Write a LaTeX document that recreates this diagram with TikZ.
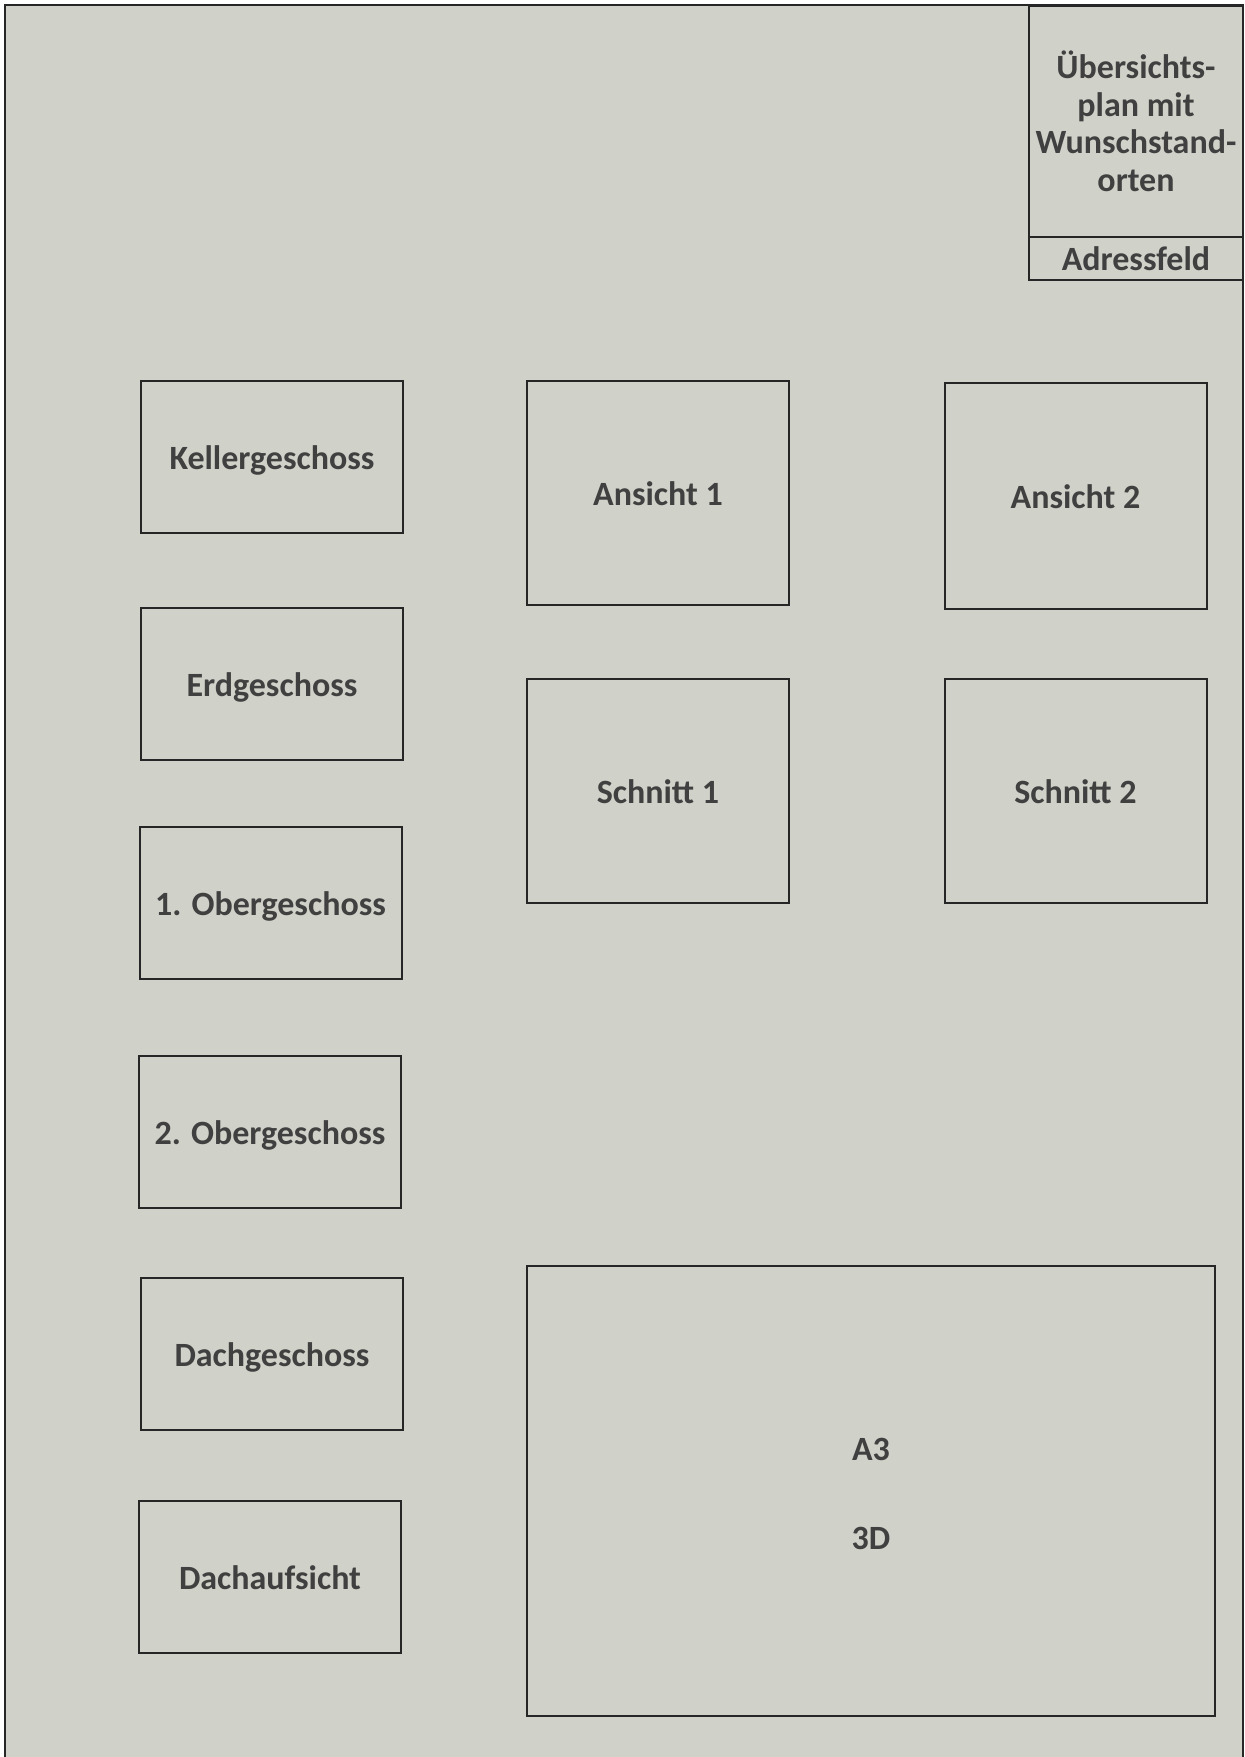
\documentclass[tikz,border=0pt]{standalone}
\usepackage{fontspec}
\setmainfont{Carlito}
\definecolor{bgc}{HTML}{D0D1C8}
\definecolor{linec}{HTML}{262626}
\definecolor{textc}{HTML}{404040}
\begin{document}
\begin{tikzpicture}[x=0.5pt,y=-0.5pt,
  box/.style={draw=linec, line width=1pt, inner sep=0pt, text=textc,
    font=\fontsize{17pt}{18.75pt}\selectfont\bfseries, align=center},
  smallbox/.style={box, minimum width=131pt, minimum height=76pt, text height=14pt, text depth=1.5pt},
  tallbox/.style={box, minimum width=131pt, minimum height=112pt, text height=14pt, text depth=1.5pt},
  lbl/.style={inner sep=0pt, text=textc, font=\fontsize{17pt}{18.75pt}\selectfont\bfseries}]
\useasboundingbox (0,0) rectangle (1245,1757);
\fill[white] (0,0) rectangle (1245,1757);
\fill[bgc] (5,5) rectangle (1243,1757);
\draw[linec, line width=1pt] (5,1757) -- (5,5) -- (1243,5) -- (1243,1757);
% top right
\node[box, minimum width=107pt, minimum height=115.5pt, anchor=north west] (plan) at (1028,5) {Übersichts-\\plan mit\\Wunschstand-\\orten};
\node[box, minimum width=107pt, minimum height=21.5pt, anchor=north west] (adr) at (1028,236) {Adressfeld};
% left column
\node[smallbox] (keller) at (272,456.5) {Kellergeschoss};
\node[smallbox] (erd) at (272,684) {Erdgeschoss};
\node[smallbox] (og1) at (270.5,903) {1. Obergeschoss};
\node[smallbox] (og2) at (270,1131.5) {2. Obergeschoss};
\node[smallbox] (dg) at (272,1353.5) {Dachgeschoss};
\node[smallbox] (da) at (270,1576.5) {Dachaufsicht};
% middle/right
\node[tallbox] (an1) at (658,492.5) {Ansicht 1};
\node[tallbox, minimum height=113pt] (an2) at (1075.5,496) {Ansicht 2};
\node[tallbox] (sc1) at (658,790.5) {Schnitt 1};
\node[tallbox] (sc2) at (1075.5,790.5) {Schnitt 2};
% A3 box
\node[box, minimum width=344pt, minimum height=225pt] (a3box) at (871,1491) {};
\node[lbl] (a3) at (871,1449) {A3};
\node[lbl] (d3) at (871,1538) {3D};
\end{tikzpicture}
\end{document}
